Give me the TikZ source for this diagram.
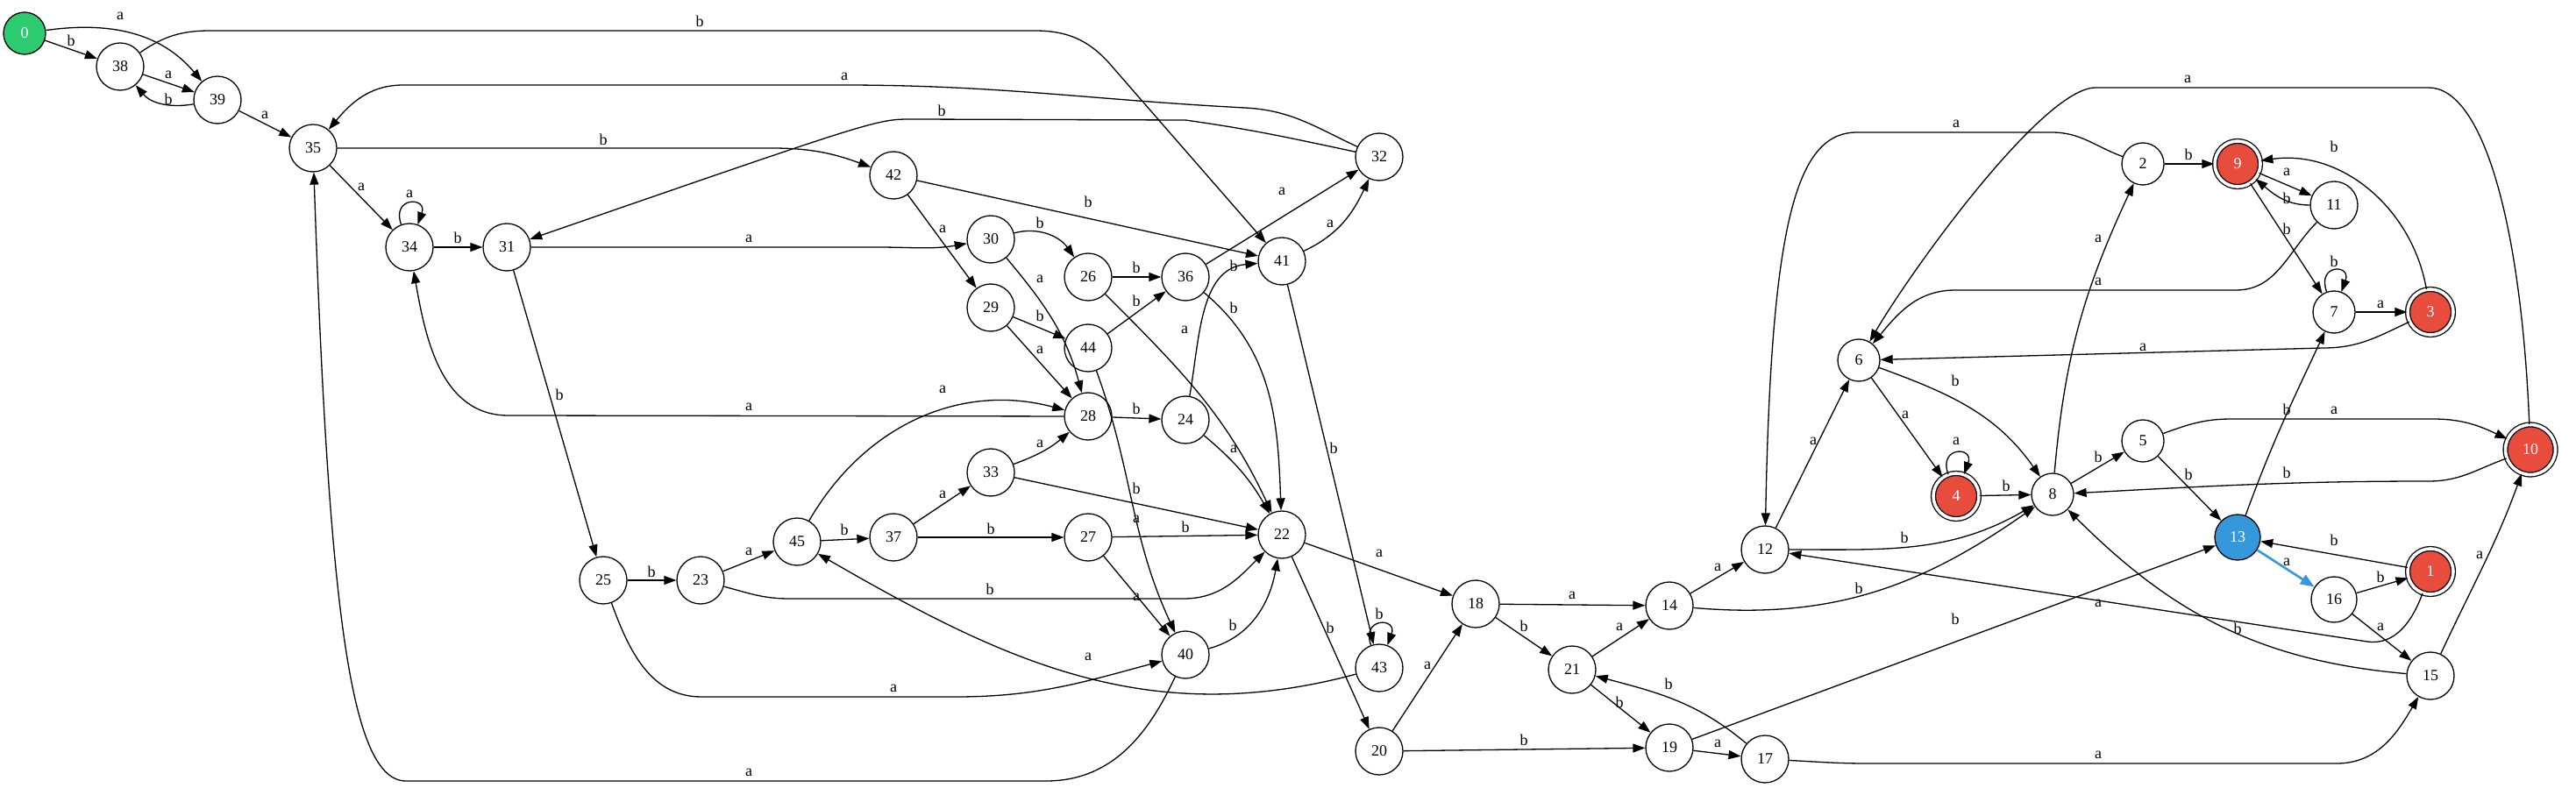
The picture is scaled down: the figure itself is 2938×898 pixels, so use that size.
\documentclass[tikz,border=0pt]{standalone}
\usepackage{fontspec}
\setmainfont{Liberation Serif}
\usetikzlibrary{arrows.meta}
\definecolor{startgreen}{HTML}{2ECC71}
\definecolor{finalred}{HTML}{E74C3C}
\definecolor{curblue}{HTML}{3498DB}

\begin{document}
\begin{tikzpicture}[x=1pt,y=1pt,
  every node/.style={font=\fontsize{18}{20}\selectfont},
  st/.style={circle,draw,line width=1.3pt,minimum size=54pt,inner sep=0pt},
  sgl/.style={minimum size=48pt},
  fin/.style={double,double distance=3.6pt,fill=finalred,text=white,minimum size=52pt},
  ed/.style={line width=1.3pt,-{Triangle[length=14pt,width=10pt]}},
  cur/.style={draw=curblue,line width=2.6pt,-{Triangle[length=16pt,width=12pt]}},
  lab/.style={inner sep=0pt}]
\useasboundingbox (0,0) rectangle (2938,898);
% states
\node[st,sgl,fill=startgreen,text=white] (s0) at (28,860) {0};
\node[st] (s38) at (137,822) {38};
\node[st] (s39) at (248,784) {39};
\node[st] (s35) at (357,729) {35};
\node[st] (s34) at (467,616) {34};
\node[st] (s31) at (578,616) {31};
\node[st] (s42) at (1019,698) {42};
\node[st] (s30) at (1130,625) {30};
\node[st] (s26) at (1241,582) {26};
\node[st] (s36) at (1352,582) {36};
\node[st] (s41) at (1462,600) {41};
\node[st] (s29) at (1130,547) {29};
\node[st] (s44) at (1241,501) {44};
\node[st] (s32) at (1573,719) {32};
\node[st] (s28) at (1241,423) {28};
\node[st] (s24) at (1352,419) {24};
\node[st] (s33) at (1130,359) {33};
\node[st] (s37) at (1019,285) {37};
\node[st] (s27) at (1241,285) {27};
\node[st] (s22) at (1462,288) {22};
\node[st] (s40) at (1352,151) {40};
\node[st] (s25) at (688,236) {25};
\node[st] (s23) at (799,236) {23};
\node[st] (s45) at (909,280) {45};
\node[st] (s18) at (1683,209) {18};
\node[st] (s14) at (1904,207) {14};
\node[st] (s43) at (1573,136) {43};
\node[st] (s21) at (1793,134) {21};
\node[st] (s20) at (1573,41) {20};
\node[st] (s19) at (1904,45) {19};
\node[st] (s17) at (2013,32) {17};
\node[st] (s12) at (2013,271) {12};
\node[st,sgl] (s6) at (2120,487) {6};
\node[st,fin] (s4) at (2231,332) {4};
\node[st,sgl] (s8) at (2341,334) {8};
\node[st,sgl] (s5) at (2444,395) {5};
\node[st,sgl] (s2) at (2444,711) {2};
\node[st,fin] (s9) at (2552,711) {9};
\node[st] (s11) at (2662,664) {11};
\node[st,sgl] (s7) at (2662,542) {7};
\node[st,fin] (s3) at (2772,542) {3};
\node[st,fin,minimum size=57pt] (s10) at (2886,385) {10};
\node[st,fill=curblue,text=white,minimum size=52pt] (s13) at (2552,285) {13};
\node[st,fin] (s1) at (2772,246) {1};
\node[st,minimum size=52pt] (s16) at (2662,214) {16};
\node[st] (s15) at (2772,127) {15};
% transitions
\draw[ed] (s0) to[out=8,in=130] (s39) node[lab] at (137,880) {a};
\draw[ed] (s0) -- (s38) node[lab] at (81,852) {b};
\draw[ed] (s38) -- (s39) node[lab] at (192,813) {a};
\draw[ed] (s39) to[out=190,in=-50] (s38) node[lab] at (192,785) {b};
\draw[ed] (s39) -- (s35) node[lab] at (302,767) {a};
\draw[ed] (s38) to[out=35,in=180] (240,863) -- (1180,863) to[out=0,in=132] (1265,826) -- (s41) node[lab] at (798,874) {b};
\draw[ed] (s32) to[out=155,in=-3] (1420,775) to[out=177,in=0] (960,801) -- (460,801) to[out=180,in=50] (s35) node[lab] at (963,811) {a};
\draw[ed] (s32) to[out=168,in=-8] (1352,761) -- (1040,762) .. controls (1000,762) .. (s31) node[lab] at (1074,772) {b};
\draw[ed] (s35) -- (880,729) to[out=0,in=160] (s42) node[lab] at (688,739) {b};
\draw[ed] (s35) -- (s34) node[lab] at (412,685) {a};
\draw[ed] (s34) to[out=110,in=70,min distance=34pt] (s34) node[lab] at (467,677) {a};
\draw[ed] (s34) -- (s31) node[lab] at (522,627) {b};
\draw[ed] (s28) -- (580,424) to[out=180,in=-80] (s34) node[lab] at (854,434) {a};
\draw[ed] (s31) -- (1000,616) to[out=0,in=190] (s30) node[lab] at (854,626) {a};
\draw[ed] (s31) -- (s25) node[lab] at (638,448) {b};
\draw[ed] (s42) -- (s41) node[lab] at (1241,668) {b};
\draw[ed] (s42) -- (s29) node[lab] at (1075,637) {a};
\draw[ed] (s30) to[out=15,in=125] (s26) node[lab] at (1186,644) {b};
\draw[ed] (s30) to[out=-50,in=105] (s28) node[lab] at (1186,580) {a};
\draw[ed] (s26) -- (s36) node[lab] at (1296,593) {b};
\draw[ed] (s26) to[out=-45,in=115] (s22) node[lab] at (1351,522) {a};
\draw[ed] (s29) -- (s44) node[lab] at (1186,538) {b};
\draw[ed] (s29) -- (s28) node[lab] at (1186,499) {a};
\draw[ed] (s44) -- (s36) node[lab] at (1296,555) {b};
\draw[ed] (s44) to[out=-70,in=115] (s40) node[lab] at (1296,306) {a};
\draw[ed] (s36) -- (s32) node[lab] at (1462,680) {a};
\draw[ed] (s36) to[out=-40,in=92] (s22) node[lab] at (1407,547) {b};
\draw[ed] (s24) to[out=80,in=185] (s41) node[lab] at (1407,595) {b};
\draw[ed] (s41) to[out=25,in=-115] (s32) node[lab] at (1517,643) {a};
\draw[ed] (s41) -- (s43) node[lab] at (1521,387) {b};
\draw[ed] (s28) -- (s24) node[lab] at (1296,432) {b};
\draw[ed] (s45) to[out=60,in=165] (s28) node[lab] at (1075,454) {a};
\draw[ed] (s33) to[out=20,in=-140] (s28) node[lab] at (1186,392) {a};
\draw[ed] (s33) -- (s22) node[lab] at (1296,341) {b};
\draw[ed] (s37) -- (s33) node[lab] at (1075,334) {a};
\draw[ed] (s37) -- (s27) node[lab] at (1130,295) {b};
\draw[ed] (s27) -- (s22) node[lab] at (1352,297) {b};
\draw[ed] (s27) -- (s40) node[lab] at (1296,217) {a};
\draw[ed] (s24) to[out=-40,in=120] (s22) node[lab] at (1407,386) {a};
\draw[ed] (s23) to[out=-15,in=180] (900,215) -- (1350,215) to[out=0,in=-135] (s22) node[lab] at (1129,226) {b};
\draw[ed] (s40) to[out=15,in=-100] (s22) node[lab] at (1406,185) {b};
\draw[ed] (s25) to[out=-70,in=180] (800,103) -- (1090,103) to[out=0,in=-165] (s40) node[lab] at (1019,113) {a};
\draw[ed] (s43) to[out=195,in=-30] (s45) node[lab] at (1241,149) {a};
\draw[ed] (s40) to[out=-115,in=0] (1193,7) -- (463,7) .. controls (400,7) and (375,200) .. (s35) node[lab] at (854,17) {a};
\draw[ed] (s25) -- (s23) node[lab] at (743,246) {b};
\draw[ed] (s23) -- (s45) node[lab] at (854,269) {a};
\draw[ed] (s45) -- (s37) node[lab] at (963,294) {b};
\draw[ed] (s22) -- (s18) node[lab] at (1573,267) {a};
\draw[ed] (s22) -- (s20) node[lab] at (1517,182) {b};
\draw[ed] (s43) to[out=110,in=70,min distance=34pt] (s43) node[lab] at (1573,198) {b};
\draw[ed] (s18) -- (s14) node[lab] at (1793,219) {a};
\draw[ed] (s18) -- (s21) node[lab] at (1738,184) {b};
\draw[ed] (s20) -- (s18) node[lab] at (1628,139) {a};
\draw[ed] (s20) -- (s19) node[lab] at (1738,54) {b};
\draw[ed] (s21) -- (s14) node[lab] at (1847,183) {a};
\draw[ed] (s21) -- (s19) node[lab] at (1847,97) {b};
\draw[ed] (s17) to[out=140,in=-15] (s21) node[lab] at (1903,118) {b};
\draw[ed] (s14) -- (s12) node[lab] at (1959,251) {a};
\draw[ed] (s14) to[out=-5,in=-145] (s8) node[lab] at (2120,227) {b};
\draw[ed] (s19) -- (s17) node[lab] at (1959,50) {a};
\draw[ed] (s19) -- (s13) node[lab] at (2230,192) {b};
\draw[ed] (s17) to[out=-3,in=180] (2130,27) -- (2665,27) to[out=0,in=-120] (s15) node[lab] at (2393,37) {a};
\draw[ed] (s12) -- (s6) node[lab] at (2068,395) {a};
\draw[ed] (s12) to[out=0,in=-150] (s8) node[lab] at (2172,285) {b};
\draw[ed] (s6) -- (s4) node[lab] at (2173,425) {a};
\draw[ed] (s6) to[out=-20,in=125] (s8) node[lab] at (2230,464) {b};
\draw[ed] (s4) to[out=110,in=70,min distance=34pt] (s4) node[lab] at (2231,395) {a};
\draw[ed] (s4) -- (s8) node[lab] at (2288,344) {b};
\draw[ed] (s8) -- (s5) node[lab] at (2393,377) {b};
\draw[ed] (s8) to[out=85,in=-115] (s2) node[lab] at (2393,626) {a};
\draw[ed] (s2) to[out=160,in=0] (2340,747) -- (2118,747) .. controls (2050,747) and (2020,650) .. (s12) node[lab] at (2231,757) {a};
\draw[ed] (s15) to[out=175,in=-45] (s8) node[lab] at (2552,181) {b};
\draw[ed] (s1) to[out=-110,in=-8] (2700,166) -- (s12) node[lab] at (2393,210) {a};
\draw[ed] (s10) to[out=-160,in=0] (2770,349) to[out=180,in=3] (s8) node[lab] at (2608,359) {b};
\draw[ed] (s5) to[out=20,in=180] (2545,420) -- (2775,420) to[out=0,in=155] (s10) node[lab] at (2662,430) {a};
\draw[ed] (s5) -- (s13) node[lab] at (2496,357) {b};
\draw[ed] (s13) to[out=70,in=-115] (s7) node[lab] at (2608,431) {b};
\draw[cur] (s13) -- (s16) node[lab] at (2608,257) {a};
\draw[ed] (s1) -- (s13) node[lab] at (2662,282) {b};
\draw[ed] (s16) -- (s1) node[lab] at (2715,240) {b};
\draw[ed] (s16) -- (s15) node[lab] at (2715,183) {a};
\draw[ed] (s15) to[out=65,in=-110] (s10) node[lab] at (2828,265) {a};
\draw[ed] (s10) .. controls (2875,650) and (2830,798) .. (2770,798) -- (2390,798) .. controls (2330,798) and (2180,590) .. (s6) node[lab] at (2495,808) {a};
\draw[ed] (s11) to[out=-135,in=0] (2550,567) -- (2230,567) to[out=180,in=50] (s6) node[lab] at (2393,577) {a};
\draw[ed] (s3) to[out=-155,in=0] (2650,501) -- (s6) node[lab] at (2444,502) {a};
\draw[ed] (s2) -- (s9) node[lab] at (2496,722) {b};
\draw[ed] (s9) -- (s11) node[lab] at (2608,702) {a};
\draw[ed] (s11) to[out=180,in=-40] (s9) node[lab] at (2608,672) {b};
\draw[ed] (s9) -- (s7) node[lab] at (2608,637) {b};
\draw[ed] (s7) to[out=110,in=70,min distance=34pt] (s7) node[lab] at (2662,600) {b};
\draw[ed] (s7) -- (s3) node[lab] at (2715,551) {a};
\draw[ed] (s3) to[out=100,in=8] (s9) node[lab] at (2662,731) {b};
\end{tikzpicture}
\end{document}
